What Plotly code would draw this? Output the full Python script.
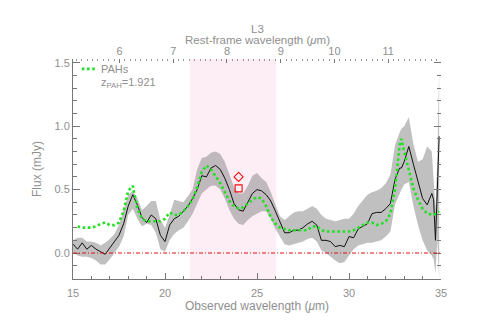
import plotly.graph_objects as go

# ---------------- data ----------------
z_pah = 1.921
wavelength = [15.0, 15.25, 15.5, 15.75, 16.0, 16.25, 16.5, 16.75, 17.0, 17.25, 17.5, 17.75,
              18.0, 18.25, 18.5, 18.75, 19.0, 19.25, 19.5, 19.75, 20.0, 20.25, 20.5, 20.75,
              21.0, 21.25, 21.5, 21.75, 22.0, 22.25, 22.5, 22.75, 23.0, 23.25, 23.5, 23.75,
              24.0, 24.25, 24.5, 24.75, 25.0, 25.25, 25.5, 25.75, 26.0, 26.25, 26.5, 26.75,
              27.0, 27.25, 27.5, 27.75, 28.0, 28.25, 28.5, 28.75, 29.0, 29.25, 29.5, 29.75,
              30.0, 30.25, 30.5, 30.75, 31.0, 31.25, 31.5, 31.75, 32.0, 32.25, 32.5, 32.75,
              32.85, 33.0, 33.25, 33.5, 33.75, 34.0, 34.25, 34.5, 34.6, 34.7, 34.8, 34.9]

flux = [0.07, 0.03, 0.08, 0.03, 0.06, 0.03, 0.01, -0.01, 0.04, 0.09, 0.14, 0.23,
        0.37, 0.46, 0.38, 0.28, 0.24, 0.30, 0.27, 0.14, 0.09, 0.22, 0.27, 0.29,
        0.33, 0.37, 0.43, 0.50, 0.61, 0.60, 0.67, 0.69, 0.66, 0.59, 0.50, 0.39,
        0.34, 0.33, 0.40, 0.47, 0.50, 0.49, 0.46, 0.41, 0.33, 0.25, 0.16, 0.16,
        0.18, 0.18, 0.20, 0.23, 0.25, 0.22, 0.10, 0.10, 0.09, 0.05, 0.06, 0.05,
        0.13, 0.12, 0.19, 0.21, 0.23, 0.31, 0.32, 0.32, 0.35, 0.39, 0.58, 0.67,
        0.67, 0.72, 0.84, 0.70, 0.57, 0.43, 0.38, 0.47, 0.42, 0.10, 0.50, 0.92]

flux_upper = [0.10, 0.12, 0.12, 0.09, 0.09, 0.08, 0.06, 0.08, 0.11, 0.15, 0.22, 0.35,
              0.46, 0.49, 0.43, 0.34, 0.37, 0.41, 0.41, 0.26, 0.20, 0.30, 0.42, 0.41,
              0.40, 0.45, 0.50, 0.66, 0.75, 0.76, 0.79, 0.80, 0.78, 0.72, 0.62, 0.52,
              0.47, 0.47, 0.53, 0.61, 0.63, 0.59, 0.56, 0.48, 0.38, 0.29, 0.26, 0.29,
              0.32, 0.33, 0.33, 0.35, 0.37, 0.35, 0.30, 0.27, 0.26, 0.25, 0.26, 0.27,
              0.27, 0.31, 0.37, 0.42, 0.46, 0.48, 0.49, 0.51, 0.55, 0.62, 0.85, 0.95,
              0.98, 1.00, 1.07, 0.86, 0.72, 0.74, 0.84, 0.80, 0.60, 0.35, 0.75, 1.45]

flux_lower = [0.01, -0.02, -0.03, -0.03, -0.04, -0.06, -0.09, -0.09, -0.05, 0.00, 0.05, 0.13,
              0.30, 0.35, 0.27, 0.21, 0.23, 0.22, 0.16, 0.03, 0.01, 0.10, 0.15, 0.18,
              0.20, 0.25, 0.31, 0.39, 0.47, 0.50, 0.53, 0.53, 0.50, 0.43, 0.34, 0.27,
              0.23, 0.22, 0.26, 0.29, 0.31, 0.33, 0.33, 0.27, 0.19, 0.13, 0.07, 0.06,
              0.07, 0.08, 0.09, 0.11, 0.12, 0.09, 0.02, 0.00, -0.03, -0.06, -0.08, -0.07,
              -0.02, 0.03, 0.06, 0.07, 0.08, 0.08, 0.09, 0.10, 0.13, 0.17, 0.38, 0.47,
              0.50, 0.54, 0.56, 0.37, 0.22, 0.10, 0.02, -0.02, -0.05, -0.16, 0.10, -0.20]

pah_model = [None, 0.21, 0.20, 0.20, 0.20, 0.21, 0.23, 0.24, 0.22, 0.22, 0.24, 0.33,
             0.49, 0.53, 0.35, 0.27, 0.25, 0.25, 0.25, 0.25, 0.27, 0.32, 0.30, 0.30,
             0.33, 0.37, 0.42, 0.52, 0.64, 0.69, 0.66, 0.61, 0.55, 0.48, 0.41, 0.37,
             0.35, 0.36, 0.39, 0.42, 0.44, 0.43, 0.37, 0.28, 0.23, 0.20, 0.19, 0.18,
             0.18, 0.18, 0.18, 0.18, 0.21, 0.21, 0.18, 0.17, 0.17, 0.17, 0.17, 0.17,
             0.17, 0.18, 0.20, 0.22, 0.24, 0.24, 0.22, 0.23, 0.25, 0.31, 0.50, 0.85,
             0.90, 0.80, 0.66, 0.51, 0.42, 0.35, 0.31, 0.30, 0.30, 0.31, 0.32, 0.33]

photometry_wav = [24.0, 24.0]
photometry_flux = [0.60, 0.51]
photometry_symbols = ["diamond-open", "square-open"]

shade_range = [21.35, 26.05]
x_range = [15, 35]
y_range = [-0.205, 1.53]
x_ticks = [15, 20, 25, 30, 35]
y_ticks = [0.0, 0.5, 1.0, 1.5]
y_ticktext = ["0.0", "0.5", "1.0", "1.5"]
rest_ticks = [6, 7, 8, 9, 10, 11]

# ---------------- figure ----------------
TXT = "#8f8f8f"
FONT = "Liberation Sans"

fig = go.Figure()

fig.add_trace(go.Scatter(x=wavelength, y=flux_lower, mode="lines",
                         line=dict(width=0, color="rgba(0,0,0,0)"),
                         showlegend=False, hoverinfo="skip"))
fig.add_trace(go.Scatter(x=wavelength, y=flux_upper, mode="lines", fill="tonexty",
                         fillcolor="rgba(140,140,140,0.55)",
                         line=dict(width=0, color="rgba(0,0,0,0)"),
                         showlegend=False, hoverinfo="skip"))
fig.add_trace(go.Scatter(x=wavelength, y=flux, mode="lines",
                         line=dict(color="#111111", width=1),
                         showlegend=False))
fig.add_trace(go.Scatter(x=wavelength, y=pah_model, mode="lines",
                         line=dict(color="#22e022", width=2.6, dash="2.6px,2.6px"),
                         showlegend=False))
fig.add_trace(go.Scatter(x=photometry_wav, y=photometry_flux, mode="markers",
                         marker=dict(symbol=photometry_symbols, size=7,
                                     color="#ee1111", line=dict(width=1.1, color="#ee1111")),
                         showlegend=False))
# invisible helpers for the secondary (top / right) axes
fig.add_trace(go.Scatter(x=[rest_ticks[0]], y=[None], xaxis="x2", yaxis="y",
                         showlegend=False, hoverinfo="skip"))
fig.add_trace(go.Scatter(x=[x_range[0]], y=[None], xaxis="x", yaxis="y2",
                         showlegend=False, hoverinfo="skip"))

fig.add_shape(type="rect", xref="x", yref="paper", x0=shade_range[0], x1=shade_range[1],
              y0=0, y1=1, fillcolor="#fdeef5", line=dict(width=0), layer="below")
fig.add_shape(type="line", xref="paper", yref="y", x0=0, x1=1, y0=0, y1=0,
              line=dict(color="#e01010", width=1, dash="4px,2px,1px,2px"))

# legend (drawn by hand to match the IDL style)
fig.add_shape(type="line", xref="paper", yref="paper", x0=0.024, x1=0.064, y0=0.955, y1=0.955,
              line=dict(color="#22e022", width=2.6, dash="2.6px,2.6px"))
fig.add_annotation(xref="paper", yref="paper", x=0.072, y=0.955, xanchor="left", yanchor="middle",
                   text="PAHs", showarrow=False, font=dict(family=FONT, size=11, color=TXT))
fig.add_annotation(xref="paper", yref="paper", x=0.072, y=0.89, xanchor="left", yanchor="middle",
                   text="z<sub>PAH</sub>=1.921", showarrow=False,
                   font=dict(family=FONT, size=11, color=TXT))
# top titles
fig.add_annotation(xref="paper", yref="paper", x=0.5, y=1.0, yshift=19, xanchor="center",
                   yanchor="middle", text="Rest-frame wavelength (<i>μ</i>m)", showarrow=False,
                   font=dict(family=FONT, size=11.5, color=TXT))
fig.add_annotation(xref="paper", yref="paper", x=0.5, y=1.0, yshift=30, xanchor="center",
                   yanchor="middle", text="L3", showarrow=False,
                   font=dict(family=FONT, size=11.5, color=TXT))

axis_common = dict(showgrid=False, zeroline=False, ticks="inside", tickcolor="#777",
                   automargin=False,
                   tickfont=dict(family=FONT, size=11, color=TXT))

# the page body adds an 8px offset, so margins compensate for it
fig.update_layout(
    width=491, height=327,
    margin=dict(l=65, r=58, t=51, b=56),
    paper_bgcolor="white", plot_bgcolor="rgba(0,0,0,0)",
    xaxis=dict(range=x_range, tickvals=x_ticks, ticklen=6, showline=True,
               linecolor="#777", linewidth=1, ticklabelstandoff=4,
               minor=dict(dtick=1, ticklen=3, ticks="inside", tickcolor="#777"),
               title=dict(text="Observed wavelength (<i>μ</i>m)", standoff=3,
                          font=dict(family=FONT, size=12, color=TXT)),
               **axis_common),
    xaxis2=dict(overlaying="x", side="top", anchor="y",
                range=[x_range[0] / (1 + z_pah), x_range[1] / (1 + z_pah)],
                tickvals=rest_ticks, ticklen=4, showline=False, ticklabelstandoff=1,
                minor=dict(dtick=0.1, ticklen=2, ticks="inside", tickcolor="#999"),
                **axis_common),
    yaxis=dict(range=y_range, tickvals=y_ticks, ticktext=y_ticktext, ticklen=7,
               showline=True, linecolor="#777", linewidth=1,
               minor=dict(dtick=0.1, ticklen=4, ticks="inside", tickcolor="#777"),
               title=dict(text="Flux (mJy)", standoff=10,
                          font=dict(family=FONT, size=12, color=TXT)),
               **axis_common),
    yaxis2=dict(overlaying="y", side="right", anchor="x", range=y_range,
                tickvals=y_ticks, ticklen=7, showline=False, showticklabels=False,
                minor=dict(dtick=0.1, ticklen=4, ticks="inside", tickcolor="#777"),
                **axis_common),
)

fig.write_html("out.html")
